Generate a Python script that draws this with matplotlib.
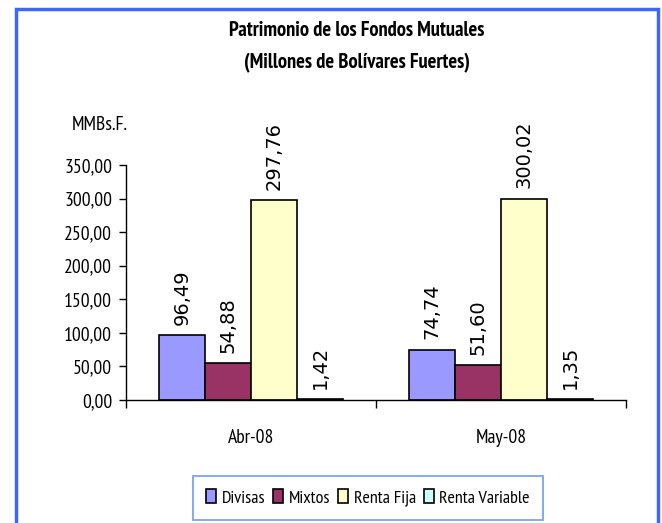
import matplotlib
matplotlib.use("Agg")
import matplotlib.pyplot as plt
import matplotlib.patches as mpatches
import numpy as np

categories = ["Abr-08", "May-08"]
series = ["Divisas", "Mixtos", "Renta Fija", "Renta Variable"]
divisas = [96.49, 74.74]
mixtos = [54.88, 51.60]
renta_fija = [297.76, 300.02]
renta_variable = [1.42, 1.35]
colors = ["#9999FF", "#993366", "#FFFFCC", "#CCFFFF"]
yticks = [0, 50, 100, 150, 200, 250, 300, 350]

narrow = ["PT Sans Narrow", "Roboto Condensed", "DejaVu Sans"]

def fmt(v):
    return f"{v:.2f}".replace(".", ",")

fig = plt.figure(figsize=(6.62, 5.23), dpi=100)
ax = fig.add_axes([126/662, 1-400/523, 500/662, 235/523])

values = [divisas, mixtos, renta_fija, renta_variable]
x = np.arange(len(categories))
w = 0.184
for i, (vals, c, name) in enumerate(zip(values, colors, series)):
    pos = x + (i - 1.5) * w
    bars = ax.bar(pos, vals, width=w, color=c, edgecolor="black", linewidth=1.2, label=name)
    for b, v in zip(bars, vals):
        ax.annotate(fmt(v), (b.get_x() + b.get_width()/2, v), xytext=(0, 7.5),
                    textcoords="offset points", rotation=90, ha="center", va="bottom",
                    fontsize=14, family="DejaVu Sans")

ax.set_xlim(-0.5, len(categories) - 0.5)
ax.set_ylim(0, 350)
ax.set_yticks(yticks)
ax.set_yticklabels([fmt(t) for t in yticks], family=narrow, fontsize=14)
ax.set_xticks(np.arange(len(categories) + 1) - 0.5)
ax.set_xticklabels([])
ax.set_xticks(x, minor=True)
ax.set_xticklabels(categories, minor=True, family=narrow, fontsize=14)
ax.tick_params(axis="x", which="major", length=6, width=1, direction="out")
ax.tick_params(axis="x", which="minor", length=0, pad=21)
ax.tick_params(axis="y", length=5, width=1, pad=5)
for s in ["top", "right"]:
    ax.spines[s].set_visible(False)
for s in ["left", "bottom"]:
    ax.spines[s].set_linewidth(1)

fig.text(357/662, 1-31/523, "Patrimonio de los Fondos Mutuales", ha="center", va="center",
         family=narrow, fontweight="bold", fontsize=14.8)
fig.text(357/662, 1-63/523, "(Millones de Bolívares Fuertes)", ha="center", va="center",
         family=narrow, fontweight="bold", fontsize=14.8)
fig.text(72/662, 1-125/523, "MMBs.F.", ha="left", va="center", family=narrow, fontsize=14)

handles = [mpatches.Patch(facecolor=c, edgecolor="black", linewidth=1.2) for c in colors]
leg = fig.legend(handles, series, loc="center", bbox_to_anchor=(368/662, 1-498/523),
                 ncol=4, frameon=True, fancybox=False, handlelength=0.55, handleheight=0.8,
                 handletextpad=0.3, columnspacing=0.45, borderpad=0.75,
                 prop={"family": narrow, "size": 13})
leg.get_frame().set_edgecolor("#5b8cf5")
leg.get_frame().set_linewidth(1.3)

frame = mpatches.Rectangle((16/662, -0.05), (658-16)/662, 1-9/523 + 0.05, transform=fig.transFigure,
                           fill=False, edgecolor="#3d66ff", linewidth=2.5, clip_on=False)
fig.patches.append(frame)

fig.savefig("out.png", dpi=100)
